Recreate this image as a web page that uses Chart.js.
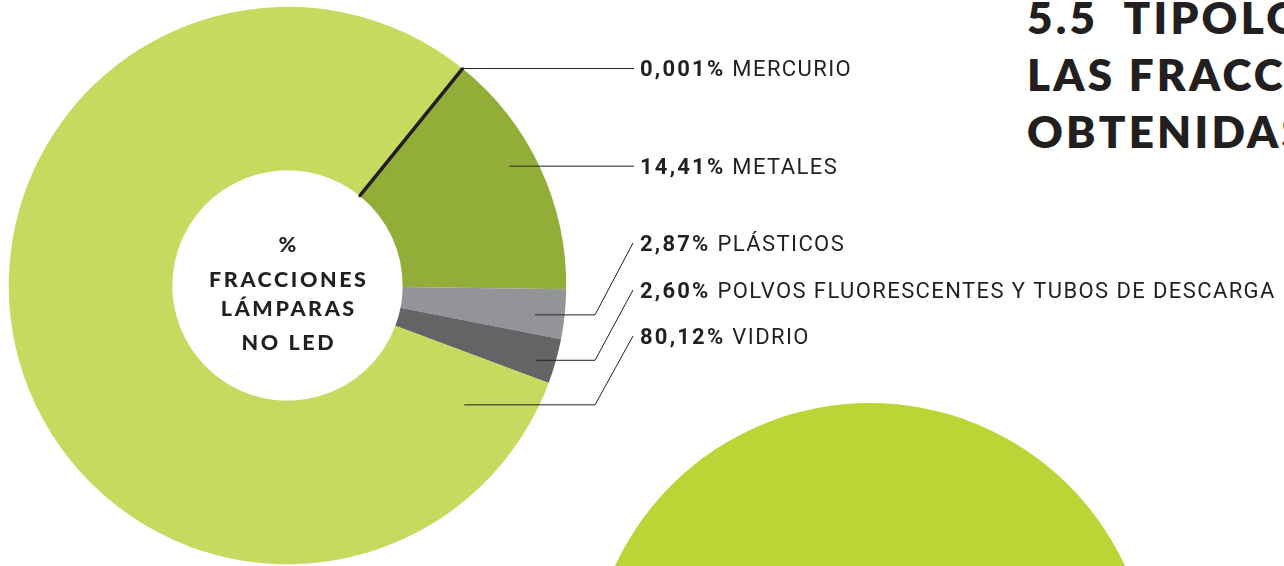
<!DOCTYPE html>
<html>
<head>
<meta charset="utf-8">
<script src="https://cdn.jsdelivr.net/npm/chart.js@4.4.1/dist/chart.umd.min.js"></script>
<style>
  html, body { margin: 0; padding: 0; background: #fff; overflow: hidden; }
  #wrap { position: relative; width: 1284px; height: 566px; overflow: hidden; }
  #bigCircle { position: absolute; left: 589px; top: 403px; width: 562px; height: 562px; border-radius: 50%; background: #b9d536; }
  #title { position: absolute; left: 1027px; top: -11px; font: 800 44px Lato; letter-spacing: 3.2px; line-height: 57px; color: #231f20; white-space: nowrap; }
  canvas { position: absolute; left: 0; top: 0; }
</style>
</head>
<body>
<div id="wrap">
  <div id="bigCircle"></div>
  <div id="title"></div>
  <canvas id="fraccionesChart" width="1284" height="566"></canvas>
</div>
<script>
const labels = ["METALES", "PLÁSTICOS", "POLVOS FLUORESCENTES Y TUBOS DE DESCARGA", "VIDRIO", "MERCURIO"];
const values = [14.41, 2.87, 2.60, 80.12, 0.001];
const valueLabels = ["14,41%", "2,87%", "2,60%", "80,12%", "0,001%"];
const colors = ["#93ae38", "#929497", "#636466", "#c5da5f", "#231f20"];
const centerLines = ["%", "FRACCIONES", "LÁMPARAS", "NO LED"];
const titleLines = ["5.5\u00a0 TIPOLOGÍA DE", "LAS FRACCIONES", "OBTENIDAS"];

document.getElementById("title").innerHTML = titleLines.join("<br>");

// where each leader line starts inside its slice, and where its label sits
// at = fraction along the slice angle, r = fraction of the ring thickness
const leaders = [
  { index: 4, at: 0.5, r: 1.0, textY: null },
  { index: 0, at: 0.44, r: 0.836, textY: null },
  { index: 1, at: 0.58, r: 0.82, textY: 243 },
  { index: 2, at: 0.6, r: 0.885, textY: 290 },
  { index: 3, at: 0.047, r: 0.6, textY: 336 },
];
const centerY = [244, 279, 308, 342];

const ink = "#231f20";

const labelsPlugin = {
  id: "labelsPlugin",
  afterDraw(chart) {
    const ctx = chart.ctx;
    const meta = chart.getDatasetMeta(0);
    ctx.save();
    ctx.strokeStyle = ink;
    ctx.fillStyle = ink;
    ctx.lineWidth = 1;

    leaders.forEach((l) => {
      const arc = meta.data[l.index];
      const p = arc.getProps(["x", "y", "startAngle", "endAngle", "innerRadius", "outerRadius"], true);
      const a = p.startAngle + (p.endAngle - p.startAngle) * l.at;
      const r = p.innerRadius + (p.outerRadius - p.innerRadius) * l.r;
      const sx = p.x + r * Math.cos(a);
      const sy = p.y + r * Math.sin(a);
      const ty = l.textY === null ? sy : l.textY;

      ctx.beginPath();
      ctx.moveTo(sx, sy);
      if (l.textY === null) {
        ctx.lineTo(634, sy);
      } else {
        ctx.lineTo(595, sy);
        ctx.lineTo(633, ty);
      }
      ctx.stroke();

      ctx.textAlign = "left";
      ctx.textBaseline = "alphabetic";
      ctx.font = "700 22px Roboto";
      ctx.letterSpacing = "2.2px";
      ctx.fillText(valueLabels[l.index], 640, ty + 7.8);
      const w = ctx.measureText(valueLabels[l.index]).width;
      ctx.font = "400 22px Roboto";
      ctx.letterSpacing = "1.4px";
      ctx.fillText(labels[l.index], 640 + w + 7, ty + 7.8);
    });

    // center text
    const c = meta.data[0];
    ctx.textAlign = "center";
    ctx.font = "900 21.5px Lato";
    ctx.letterSpacing = "2.6px";
    centerLines.forEach((t, i) => {
      ctx.fillText(t, c.x + 1.3, centerY[i] + 7.7);
    });
    ctx.restore();
  },
};

new Chart(document.getElementById("fraccionesChart"), {
  type: "doughnut",
  data: {
    labels: labels,
    datasets: [
      {
        data: values,
        backgroundColor: colors,
        borderColor: ink,
        borderWidth: [0, 0, 0, 0, 3.5],
      },
    ],
  },
  options: {
    responsive: false,
    animation: false,
    rotation: 38.9,
    cutout: "41.3%",
    layout: { padding: { left: 5, top: 5, right: 714, bottom: -4 } },
    plugins: {
      legend: { display: false },
      tooltip: { enabled: false },
    },
  },
  plugins: [labelsPlugin],
});
</script>
</body>
</html>
